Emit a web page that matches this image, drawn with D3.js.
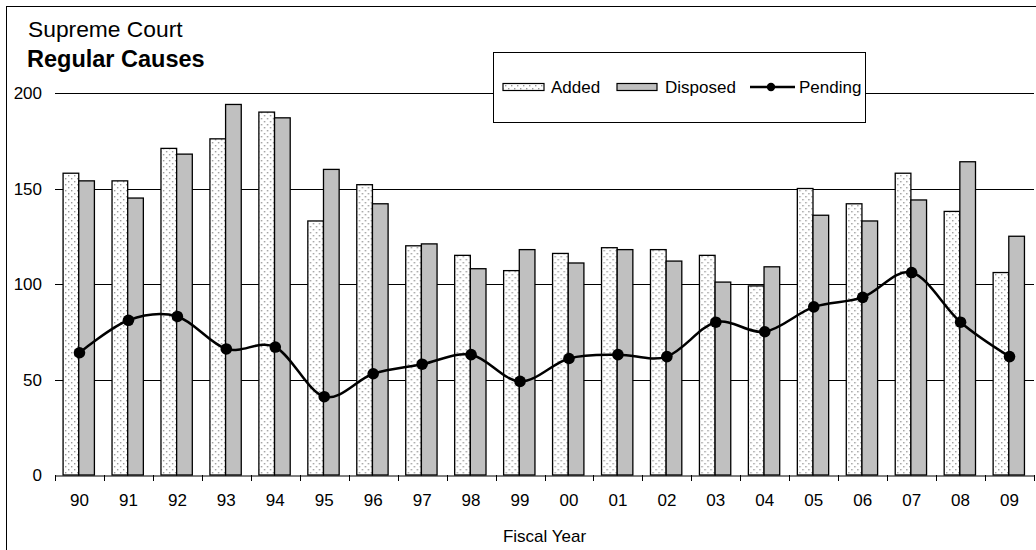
<!DOCTYPE html>
<html>
<head>
<meta charset="utf-8">
<script src="https://cdn.jsdelivr.net/npm/d3@7"></script>
<style>
  html, body { margin: 0; padding: 0; background: #fff; }
  svg { display: block; font-family: "Liberation Sans", Arial, sans-serif; }
</style>
</head>
<body>
<svg id="chart" width="1036" height="550"></svg>
<script>
// Fiscal years (two-digit labels)
const years = ["90","91","92","93","94","95","96","97","98","99","00","01","02","03","04","05","06","07","08","09"];
// Regular causes added during the year
const added = [158,154,171,176,190,133,152,120,115,107,116,119,118,115,99,150,142,158,138,106];
// Regular causes disposed during the year
const disposed = [154,145,168,194,187,160,142,121,108,118,111,118,112,101,109,136,133,144,164,125];
// Regular causes pending at year end
const pending = [64,81,83,66,67,41,53,58,63,49,61,63,62,80,75,88,93,106,80,62];
// Value axis ticks
const yTicks = [0,50,100,150,200];
const seriesNames = ["Added","Disposed"];

const svg = d3.select("#chart");
const W = 1036, H = 550;
const plot = { left: 55, right: 1034, top: 93, bottom: 475 };
const smallFont = "17px";

svg.append("rect").attr("x",0).attr("y",0).attr("width",W).attr("height",H).attr("fill","#fff");

// dotted fill for the "Added" bars
const defs = svg.append("defs");
const pat = defs.append("pattern").attr("id","dots").attr("patternUnits","userSpaceOnUse")
  .attr("width",6).attr("height",6);
pat.append("rect").attr("width",6).attr("height",6).attr("fill","#fff");
pat.append("rect").attr("x",1).attr("y",1).attr("width",1.4).attr("height",1.4).attr("fill","#999");
pat.append("rect").attr("x",4).attr("y",4).attr("width",1.4).attr("height",1.4).attr("fill","#999");

// outer frame
svg.append("rect").attr("x",6.5).attr("y",6.5).attr("width",1100).attr("height",700)
  .attr("fill","none").attr("stroke","#000").attr("stroke-width",1);

const x = d3.scaleBand().domain(years).range([plot.left, plot.right]).padding(0);
const xs = d3.scaleBand().domain(seriesNames)
  .range([x.bandwidth()*0.165, x.bandwidth()*0.805]).padding(0);
const y = d3.scaleLinear().domain([0,200]).range([plot.bottom, plot.top]);

// horizontal gridlines
svg.append("g").selectAll("line").data(yTicks.filter(d => d > 0)).join("line")
  .attr("x1", plot.left).attr("x2", plot.right)
  .attr("y1", d => Math.round(y(d)) + 0.5).attr("y2", d => Math.round(y(d)) + 0.5)
  .attr("stroke","#000").attr("stroke-width",1);

// y tick labels
svg.append("g").selectAll("text").data(yTicks).join("text")
  .attr("x", 42).attr("y", d => y(d)).attr("dy","0.36em")
  .attr("text-anchor","end").attr("font-size",smallFont).attr("fill","#000")
  .text(d => d);

// bars
const groups = svg.append("g").selectAll("g").data(years).join("g")
  .attr("transform", d => `translate(${x(d)},0)`);
groups.append("rect")
  .attr("x", xs("Added")).attr("width", xs.bandwidth())
  .attr("y", (d,i) => y(added[i])).attr("height", (d,i) => y(0) - y(added[i]))
  .attr("fill","url(#dots)").attr("stroke","#000").attr("stroke-width",1.3);
groups.append("rect")
  .attr("x", xs("Disposed")).attr("width", xs.bandwidth())
  .attr("y", (d,i) => y(disposed[i])).attr("height", (d,i) => y(0) - y(disposed[i]))
  .attr("fill","#c0c0c0").attr("stroke","#000").attr("stroke-width",1.3);

// x axis
const xAxis = d3.axisBottom(x).tickSize(0).tickPadding(18);
const gx = svg.append("g").attr("transform",`translate(0,${plot.bottom + 0.5})`).call(xAxis);
gx.select(".domain").attr("stroke","#000");
gx.selectAll("text").attr("font-size",smallFont).attr("font-family","Liberation Sans, Arial, sans-serif").attr("fill","#000");
// category boundary ticks
const bounds = years.map(d => x(d)).concat([plot.right]);
svg.append("g").selectAll("line").data(bounds).join("line")
  .attr("x1", d => Math.round(d) + 0.5).attr("x2", d => Math.round(d) + 0.5)
  .attr("y1", plot.bottom).attr("y2", plot.bottom + 6)
  .attr("stroke","#000").attr("stroke-width",1);

// axis title
svg.append("text").attr("x", (plot.left + plot.right)/2).attr("y", 541.5)
  .attr("text-anchor","middle").attr("font-size",smallFont).text("Fiscal Year");

// pending line
const cx = d => x(d) + x.bandwidth()/2;
const line = d3.line().x((d,i) => cx(years[i])).y(d => y(d)).curve(d3.curveCardinal.tension(0));
svg.append("path").datum(pending).attr("d", line)
  .attr("fill","none").attr("stroke","#000").attr("stroke-width",2.5);
svg.append("g").selectAll("circle").data(pending).join("circle")
  .attr("cx", (d,i) => cx(years[i])).attr("cy", d => y(d)).attr("r",5.8).attr("fill","#000");

// titles
svg.append("text").attr("x",28).attr("y",36.5).attr("font-size","22.8px").text("Supreme Court");
svg.append("text").attr("x",27).attr("y",66.5).attr("font-size","23.5px").attr("font-weight","bold").text("Regular Causes");

// legend
const lg = svg.append("g");
lg.append("rect").attr("x",493.5).attr("y",52.5).attr("width",372).attr("height",70)
  .attr("fill","#fff").attr("stroke","#000").attr("stroke-width",1);
const ly = 87;
lg.append("rect").attr("x",503).attr("y",ly-3.5).attr("width",41).attr("height",7)
  .attr("fill","url(#dots)").attr("stroke","#000").attr("stroke-width",1.2);
lg.append("text").attr("x",551).attr("y",ly).attr("dy","0.36em").attr("font-size",smallFont).text("Added");
lg.append("rect").attr("x",617).attr("y",ly-3.5).attr("width",40).attr("height",7)
  .attr("fill","#c0c0c0").attr("stroke","#000").attr("stroke-width",1.2);
lg.append("text").attr("x",665).attr("y",ly).attr("dy","0.36em").attr("font-size",smallFont).text("Disposed");
lg.append("line").attr("x1",750).attr("x2",795).attr("y1",ly).attr("y2",ly)
  .attr("stroke","#000").attr("stroke-width",2.5);
lg.append("circle").attr("cx",771).attr("cy",ly).attr("r",4.2).attr("fill","#000");
lg.append("text").attr("x",799).attr("y",ly).attr("dy","0.36em").attr("font-size",smallFont).text("Pending");
</script>
</body>
</html>
